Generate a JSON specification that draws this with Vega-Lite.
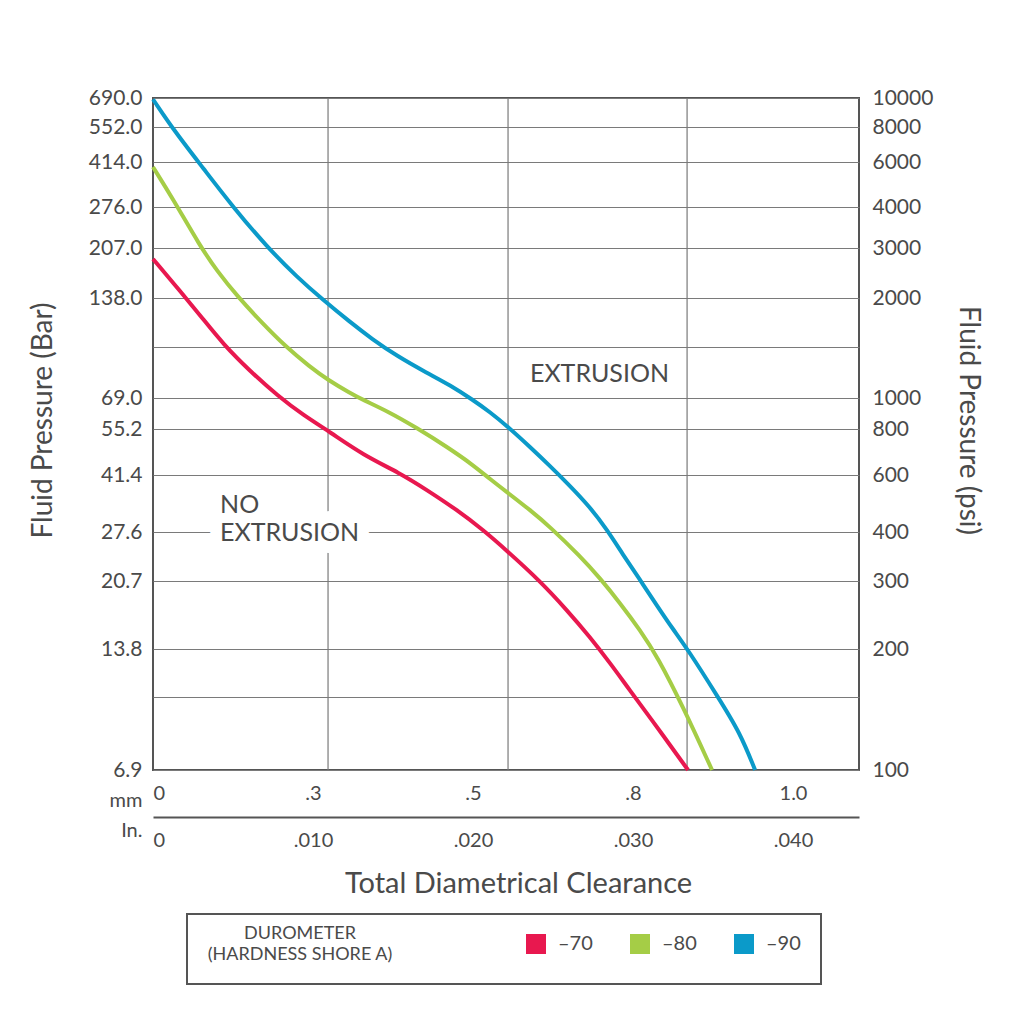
{
  "$schema": "https://vega.github.io/schema/vega-lite/v6.json",
  "width": 706,
  "height": 672,
  "autosize": {"type": "none"},
  "padding": {"left": 153, "top": 98, "right": 165, "bottom": 251},
  "background": "white",
  "datasets": {
    "curves": [
      {"in": 0, "psi": 2744, "durometer": "–70"},
      {"in": 0.00169, "psi": 2117, "durometer": "–70"},
      {"in": 0.00313, "psi": 1768, "durometer": "–70"},
      {"in": 0.00438, "psi": 1527, "durometer": "–70"},
      {"in": 0.00606, "psi": 1239, "durometer": "–70"},
      {"in": 0.00781, "psi": 1016, "durometer": "–70"},
      {"in": 0.00938, "psi": 885, "durometer": "–70"},
      {"in": 0.01106, "psi": 785, "durometer": "–70"},
      {"in": 0.01313, "psi": 680, "durometer": "–70"},
      {"in": 0.01544, "psi": 607, "durometer": "–70"},
      {"in": 0.01713, "psi": 539, "durometer": "–70"},
      {"in": 0.019, "psi": 468, "durometer": "–70"},
      {"in": 0.02063, "psi": 406, "durometer": "–70"},
      {"in": 0.02213, "psi": 358, "durometer": "–70"},
      {"in": 0.02419, "psi": 300, "durometer": "–70"},
      {"in": 0.02588, "psi": 252, "durometer": "–70"},
      {"in": 0.0273, "psi": 215, "durometer": "–70"},
      {"in": 0.02856, "psi": 184, "durometer": "–70"},
      {"in": 0.02981, "psi": 156, "durometer": "–70"},
      {"in": 0.03106, "psi": 134, "durometer": "–70"},
      {"in": 0.03344, "psi": 100, "durometer": "–70"},
      {"in": 0, "psi": 5736, "durometer": "–80"},
      {"in": 0.00125, "psi": 4299, "durometer": "–80"},
      {"in": 0.00294, "psi": 3042, "durometer": "–80"},
      {"in": 0.004, "psi": 2490, "durometer": "–80"},
      {"in": 0.00531, "psi": 2016, "durometer": "–80"},
      {"in": 0.00688, "psi": 1717, "durometer": "–80"},
      {"in": 0.00825, "psi": 1509, "durometer": "–80"},
      {"in": 0.00981, "psi": 1280, "durometer": "–80"},
      {"in": 0.01094, "psi": 1154, "durometer": "–80"},
      {"in": 0.01231, "psi": 1041, "durometer": "–80"},
      {"in": 0.01313, "psi": 986, "durometer": "–80"},
      {"in": 0.01463, "psi": 911, "durometer": "–80"},
      {"in": 0.0165, "psi": 806, "durometer": "–80"},
      {"in": 0.01838, "psi": 715, "durometer": "–80"},
      {"in": 0.02, "psi": 639, "durometer": "–80"},
      {"in": 0.02106, "psi": 583, "durometer": "–80"},
      {"in": 0.02219, "psi": 528, "durometer": "–80"},
      {"in": 0.02356, "psi": 468, "durometer": "–80"},
      {"in": 0.02481, "psi": 415, "durometer": "–80"},
      {"in": 0.02669, "psi": 347, "durometer": "–80"},
      {"in": 0.02794, "psi": 305, "durometer": "–80"},
      {"in": 0.02919, "psi": 263, "durometer": "–80"},
      {"in": 0.03044, "psi": 224, "durometer": "–80"},
      {"in": 0.03156, "psi": 190, "durometer": "–80"},
      {"in": 0.03313, "psi": 142, "durometer": "–80"},
      {"in": 0.03494, "psi": 100, "durometer": "–80"},
      {"in": 0, "psi": 9900, "durometer": "–90"},
      {"in": 0.00138, "psi": 7678, "durometer": "–90"},
      {"in": 0.00313, "psi": 5684, "durometer": "–90"},
      {"in": 0.005, "psi": 4000, "durometer": "–90"},
      {"in": 0.00713, "psi": 3021, "durometer": "–90"},
      {"in": 0.009, "psi": 2371, "durometer": "–90"},
      {"in": 0.01063, "psi": 1977, "durometer": "–90"},
      {"in": 0.01231, "psi": 1737, "durometer": "–90"},
      {"in": 0.01369, "psi": 1572, "durometer": "–90"},
      {"in": 0.01525, "psi": 1396, "durometer": "–90"},
      {"in": 0.01713, "psi": 1220, "durometer": "–90"},
      {"in": 0.01856, "psi": 1109, "durometer": "–90"},
      {"in": 0.02, "psi": 986, "durometer": "–90"},
      {"in": 0.02106, "psi": 904, "durometer": "–90"},
      {"in": 0.02219, "psi": 812, "durometer": "–90"},
      {"in": 0.02356, "psi": 715, "durometer": "–90"},
      {"in": 0.02481, "psi": 635, "durometer": "–90"},
      {"in": 0.02588, "psi": 567, "durometer": "–90"},
      {"in": 0.02731, "psi": 478, "durometer": "–90"},
      {"in": 0.02838, "psi": 406, "durometer": "–90"},
      {"in": 0.02938, "psi": 350, "durometer": "–90"},
      {"in": 0.03044, "psi": 302, "durometer": "–90"},
      {"in": 0.0315, "psi": 259, "durometer": "–90"},
      {"in": 0.0325, "psi": 225, "durometer": "–90"},
      {"in": 0.03344, "psi": 199, "durometer": "–90"},
      {"in": 0.03531, "psi": 150, "durometer": "–90"},
      {"in": 0.03669, "psi": 123, "durometer": "–90"},
      {"in": 0.03763, "psi": 100, "durometer": "–90"}
    ],
    "grid": [
      {"in": 0.01094},
      {"in": 0.02219},
      {"in": 0.03338}
    ],
    "notes": [
      {"in": 0.02356, "psi": 1210, "label": "EXTRUSION"},
      {"in": 0.00419, "psi": 485, "label": "NO\nEXTRUSION"}
    ]
  },
  "layer": [
    {
      "data": {"name": "grid"},
      "mark": {"type": "rule", "color": "#7a7a7a", "strokeWidth": 1.2},
      "encoding": {
        "x": {
          "field": "in",
          "type": "quantitative",
          "scale": {"domain": [0, 0.044125], "nice": false, "zero": false},
          "axis": {
            "orient": "bottom",
            "offset": 0,
            "labels": false,
            "ticks": false,
            "domain": false,
            "grid": false,
            "title": "Total Diametrical Clearance",
            "titleX": 365,
            "titleY": 122,
            "titleAlign": "center",
            "titleBaseline": "alphabetic",
            "titleFontSize": 29
          }
        }
      }
    },
    {
      "data": {"name": "notes"},
      "mark": {
        "type": "text",
        "align": "left",
        "baseline": "middle",
        "font": "Lato",
        "fontSize": 25,
        "lineBreak": "\n",
        "lineHeight": 28,
        "fill": "white",
        "stroke": "white",
        "strokeWidth": 24,
        "strokeJoin": "round"
      },
      "encoding": {
        "x": {
          "field": "in",
          "type": "quantitative",
          "scale": {"domain": [0, 0.044125], "nice": false, "zero": false},
          "axis": {
            "orient": "bottom",
            "offset": 0,
            "values": [0, 0.01, 0.02, 0.03, 0.04],
            "labelExpr": "['0', '.3', '.5', '.8', '1.0'][round(datum.value * 100)]",
            "grid": false,
            "ticks": false,
            "domain": false,
            "labelPadding": 13,
            "labelFontSize": 20,
            "labelFlush": true,
            "title": "mm",
            "titleX": -11,
            "titleY": 30,
            "titleAlign": "right",
            "titleBaseline": "middle",
            "titleFontSize": 20
          }
        },
        "y": {
          "field": "psi",
          "type": "quantitative",
          "scale": {
            "type": "log",
            "domain": [100, 150, 200, 300, 400, 600, 800, 1000, 1500, 2000, 3000, 4000, 6000, 8000, 10000],
            "range": [672, 599, 551, 483, 434, 377, 331, 300, 249, 200, 150, 109, 64, 29, 0],
            "nice": false
          },
          "axis": {
            "orient": "right",
            "values": [100, 150, 200, 300, 400, 600, 800, 1000, 1500, 2000, 3000, 4000, 6000, 8000, 10000],
            "labelExpr": "(datum.value == 150 || datum.value == 1500) ? '' : format(datum.value, 'd')",
            "grid": false,
            "ticks": false,
            "domain": false,
            "labelPadding": 13,
            "labelFontSize": 21,
            "title": "Fluid Pressure (psi)",
            "titleX": 108,
            "titleY": 322,
            "titleAngle": 90,
            "titleAlign": "center",
            "titleBaseline": "middle",
            "titleFontSize": 28
          }
        },
        "text": {"field": "label", "type": "nominal"}
      }
    },
    {
      "data": {"name": "notes"},
      "mark": {
        "type": "text",
        "align": "left",
        "baseline": "middle",
        "font": "Lato",
        "fontSize": 25,
        "lineBreak": "\n",
        "lineHeight": 28,
        "fill": "#4a4a4a"
      },
      "encoding": {
        "x": {
          "field": "in",
          "type": "quantitative",
          "scale": {"domain": [0, 0.044125], "nice": false, "zero": false},
          "axis": null
        },
        "y": {
          "field": "psi",
          "type": "quantitative",
          "axis": null
        },
        "text": {"field": "label", "type": "nominal"}
      }
    },
    {
      "data": {"name": "curves"},
      "mark": {"type": "line", "strokeWidth": 4, "interpolate": "basis"},
      "encoding": {
        "x": {
          "field": "in",
          "type": "quantitative",
          "scale": {"domain": [0, 0.044125], "nice": false, "zero": false},
          "axis": {
            "orient": "bottom",
            "offset": 47,
            "values": [0, 0.01, 0.02, 0.03, 0.04],
            "labelExpr": "datum.value == 0 ? '0' : replace(format(datum.value, '.3f'), '0.', '.')",
            "grid": false,
            "ticks": false,
            "domain": true,
            "domainColor": "#555555",
            "domainWidth": 2,
            "labelPadding": 13,
            "labelFontSize": 20,
            "labelFlush": true,
            "title": "In.",
            "titleX": -11,
            "titleY": 13,
            "titleAlign": "right",
            "titleBaseline": "middle",
            "titleFontSize": 20
          }
        },
        "y": {
          "field": "psi",
          "type": "quantitative",
          "axis": {
            "orient": "left",
            "values": [100, 150, 200, 300, 400, 600, 800, 1000, 1500, 2000, 3000, 4000, 6000, 8000, 10000],
            "labelExpr": "(datum.value == 150 || datum.value == 1500) ? '' : format(datum.value * 0.069, '.1f')",
            "grid": true,
            "gridColor": "#7a7a7a",
            "gridWidth": 1.2,
            "ticks": false,
            "domain": false,
            "labelPadding": 11,
            "labelFontSize": 21,
            "title": "Fluid Pressure (Bar)",
            "titleX": -110,
            "titleY": 322,
            "titleAngle": -90,
            "titleAlign": "center",
            "titleBaseline": "middle",
            "titleFontSize": 28
          }
        },
        "color": {
          "field": "durometer",
          "type": "nominal",
          "scale": {
            "domain": ["–70", "–80", "–90"],
            "range": ["#E8184F", "#A5CD46", "#0B9AC9"]
          },
          "legend": {
            "orient": "none",
            "legendX": 34,
            "legendY": 816,
            "direction": "horizontal",
            "title": ["DUROMETER", "(HARDNESS SHORE A)"],
            "titleOrient": "left",
            "titleAlign": "center",
            "titleFontSize": 18,
            "titleFontWeight": "normal",
            "titleColor": "#4a4a4a",
            "titleLineHeight": 21,
            "titleLimit": 400,
            "titlePadding": 40,
            "symbolType": "square",
            "symbolSize": 400,
            "symbolStrokeWidth": 0,
            "labelFontSize": 20,
            "labelColor": "#4a4a4a",
            "labelOffset": 12,
            "columnPadding": 37,
            "padding": 20,
            "strokeColor": "#555555",
            "encode": {
              "symbols": {"update": {"fill": {"scale": "color", "field": "value"}, "opacity": {"value": 1}}},
              "legend": {"update": {"strokeWidth": {"value": 2}}}
            }
          }
        },
        "detail": {"field": "durometer"},
        "order": {"field": "in"}
      }
    }
  ],
  "resolve": {"axis": {"x": "independent", "y": "independent"}},
  "config": {
    "font": "Lato",
    "view": {"stroke": "#555555", "strokeWidth": 2},
    "axis": {
      "labelFont": "Lato",
      "titleFont": "Lato",
      "labelColor": "#4a4a4a",
      "titleColor": "#4a4a4a",
      "titleFontWeight": "normal"
    },
    "legend": {"labelFont": "Lato", "titleFont": "Lato"}
  }
}
